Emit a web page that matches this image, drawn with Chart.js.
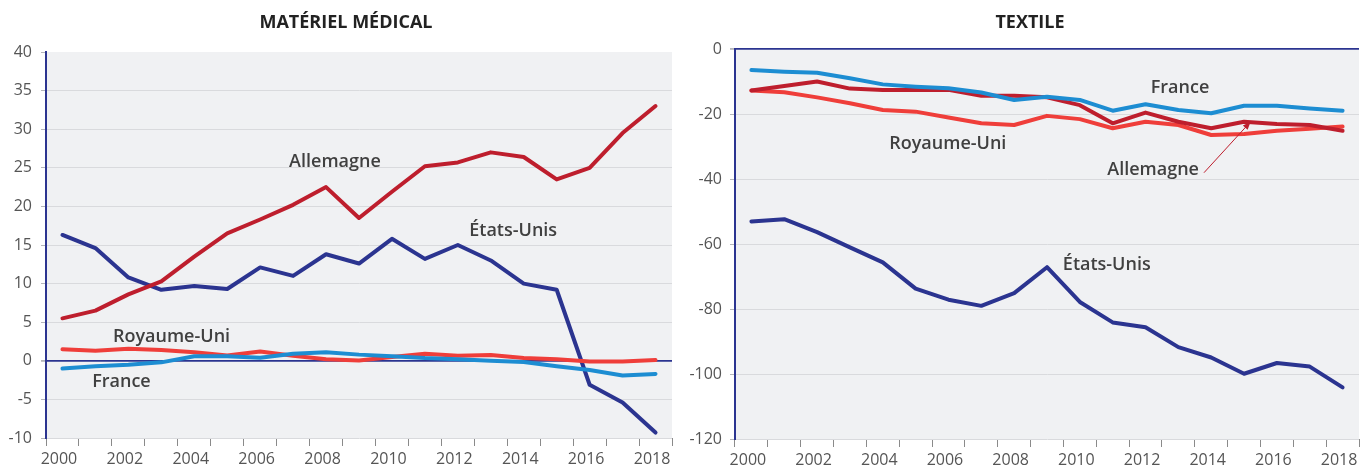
<!DOCTYPE html>
<html>
<head>
<meta charset="utf-8">
<script src="https://cdn.jsdelivr.net/npm/chart.js@4.4.1/dist/chart.umd.min.js"></script>
<style>
  html, body { margin: 0; padding: 0; background: #ffffff; }
  #wrap { position: relative; width: 1366px; height: 466px; overflow: hidden; }
  canvas { position: absolute; top: 0; }
  #c1 { left: 0; }
  #c2 { left: 683px; }
  .ttl { position: absolute; top: 9px; width: 300px; margin-left: -150px; text-align: center;
         font-family: "Open Sans", "Liberation Sans", sans-serif; font-weight: 700; font-size: 18px;
         line-height: 24px; color: #222222; white-space: nowrap; }
  #t1 { left: 346px; }
  #t2 { left: 1030px; }
</style>
</head>
<body>
<div id="wrap">
  <canvas id="c1" width="683" height="466"></canvas>
  <canvas id="c2" width="683" height="466"></canvas>
  <div class="ttl" id="t1"></div>
  <div class="ttl" id="t2"></div>
</div>
<script>
// ---------- DATA ----------
const years = ['2000','2001','2002','2003','2004','2005','2006','2007','2008','2009',
               '2010','2011','2012','2013','2014','2015','2016','2017','2018'];

// Matériel médical
const medTitle = 'MATÉRIEL MÉDICAL';
const medAllemagne   = [5.5, 6.5, 8.6, 10.3, 13.5, 16.5, 18.3, 20.2, 22.5, 18.5, 21.9, 25.2, 25.7, 27.0, 26.4, 23.5, 25.0, 29.5, 33.0];
const medEtatsUnis   = [16.3, 14.6, 10.8, 9.2, 9.7, 9.3, 12.1, 11.0, 13.8, 12.6, 15.8, 13.2, 15.0, 13.0, 10.0, 9.2, -3.1, -5.4, -9.3];
const medRoyaumeUni  = [1.5, 1.3, 1.55, 1.4, 1.1, 0.7, 1.2, 0.65, 0.2, 0.05, 0.5, 0.9, 0.65, 0.75, 0.35, 0.2, -0.1, -0.1, 0.1];
const medFrance      = [-1.0, -0.7, -0.5, -0.2, 0.6, 0.6, 0.4, 0.9, 1.1, 0.8, 0.6, 0.35, 0.2, 0.0, -0.15, -0.7, -1.2, -1.9, -1.7];
const medYTicks = [-10, -5, 0, 5, 10, 15, 20, 25, 30, 35, 40];

// Textile
const texTitle = 'TEXTILE';
const texFrance      = [-6.4, -6.9, -7.2, -8.9, -10.8, -11.5, -12.0, -13.3, -15.6, -14.6, -15.6, -18.9, -16.9, -18.7, -19.7, -17.4, -17.4, -18.2, -18.9];
const texAllemagne   = [-12.7, -11.3, -9.9, -12.1, -12.5, -12.5, -12.5, -14.3, -14.3, -14.8, -17.2, -22.8, -19.5, -22.3, -24.3, -22.3, -23.0, -23.3, -25.1];
const texRoyaumeUni  = [-12.7, -13.2, -14.8, -16.6, -18.7, -19.2, -21.0, -22.8, -23.3, -20.5, -21.5, -24.3, -22.3, -23.3, -26.4, -26.1, -25.1, -24.5, -23.8];
const texEtatsUnis   = [-53.0, -52.3, -56.3, -61.0, -65.6, -73.7, -77.1, -79.0, -75.1, -67.1, -77.8, -84.1, -85.6, -91.7, -94.9, -99.9, -96.6, -97.7, -104.1];
const texYTicks = [-120, -100, -80, -60, -40, -20, 0];

// Series names (in-plot labels)
const nameAllemagne = 'Allemagne';
const nameEtatsUnis = 'États-Unis';
const nameRoyaumeUni = 'Royaume-Uni';
const nameFrance = 'France';

document.getElementById('t1').textContent = medTitle;
document.getElementById('t2').textContent = texTitle;

// ---------- STYLE ----------
const COL_DKBLUE = '#2b3490';
const COL_DKRED  = '#be1e2d';
const COL_RED    = '#ef3e3a';
const COL_LTBLUE = '#1d8dd2';
const COL_BG     = '#f0f1f3';
const COL_GRID   = '#d9dadd';
const COL_TEXT   = '#555555';
const FONT = '"Open Sans", "Liberation Sans", sans-serif';

// annotation placement in data units (category index, value)
const medNotes = [
  { text: nameAllemagne,  x: 8.27,  y: 25.8 },
  { text: nameEtatsUnis,  x: 13.68, y: 16.8 },
  { text: nameRoyaumeUni, x: 3.31,  y: 3.1 },
  { text: nameFrance,     x: 1.79,  y: -2.7 }
];
const texNotes = [
  { text: nameFrance,     x: 13.05, y: -11.8 },
  { text: nameRoyaumeUni, x: 5.98,  y: -29.1 },
  { text: nameAllemagne,  x: 12.23, y: -37.0 },
  { text: nameEtatsUnis,  x: 10.82, y: -66.4 }
];
const texArrow = { from: { x: 13.78, y: -38.0 }, to: { x: 15.2, y: -22.3 } };

// ---------- PLUGINS ----------
const bgPlugin = {
  id: 'bgArea',
  beforeDraw(chart) {
    const a = chart.chartArea, ctx = chart.ctx;
    ctx.save();
    ctx.fillStyle = COL_BG;
    ctx.fillRect(a.left, a.top, a.right - a.left, a.bottom - a.top);
    ctx.restore();
  }
};

const notesPlugin = {
  id: 'notes',
  afterDatasetsDraw(chart, args, opts) {
    const ctx = chart.ctx, xs = chart.scales.x, ys = chart.scales.y;
    ctx.save();
    ctx.font = '600 18px ' + FONT;
    ctx.fillStyle = '#404040';
    ctx.textAlign = 'center';
    ctx.textBaseline = 'middle';
    (opts.items || []).forEach(n => {
      ctx.fillText(n.text, xs.getPixelForValue(n.x), ys.getPixelForValue(n.y));
    });
    if (opts.arrow) {
      const x1 = xs.getPixelForValue(opts.arrow.from.x), y1 = ys.getPixelForValue(opts.arrow.from.y);
      const x2 = xs.getPixelForValue(opts.arrow.to.x),   y2 = ys.getPixelForValue(opts.arrow.to.y);
      ctx.strokeStyle = COL_DKRED;
      ctx.fillStyle = COL_DKRED;
      ctx.lineWidth = 1;
      ctx.beginPath(); ctx.moveTo(x1, y1); ctx.lineTo(x2, y2); ctx.stroke();
      const ang = Math.atan2(y2 - y1, x2 - x1), L = 8, W = 3.2;
      ctx.beginPath();
      ctx.moveTo(x2, y2);
      ctx.lineTo(x2 - L * Math.cos(ang) + W * Math.sin(ang), y2 - L * Math.sin(ang) - W * Math.cos(ang));
      ctx.lineTo(x2 - L * Math.cos(ang) - W * Math.sin(ang), y2 - L * Math.sin(ang) + W * Math.cos(ang));
      ctx.closePath(); ctx.fill();
    }
    ctx.restore();
  }
};

function ds(label, data, color) {
  return { label, data, borderColor: color, backgroundColor: color, borderWidth: 4,
           pointRadius: 0, pointHoverRadius: 0, tension: 0, fill: false,
           borderCapStyle: 'round', borderJoinStyle: 'round' };
}

function makeChart(canvasId, cfg) {
  const yMin = cfg.yTicks[0], yMax = cfg.yTicks[cfg.yTicks.length - 1];
  return new Chart(document.getElementById(canvasId), {
    type: 'line',
    data: {
      labels: years,
      datasets: cfg.datasets
    },
    options: {
      responsive: false,
      animation: false,
      devicePixelRatio: 1,
      layout: { padding: { left: 0, right: cfg.padRight, top: cfg.padTop, bottom: 0 } },
      plugins: {
        legend: { display: false },
        tooltip: { enabled: false },
        title: { display: false },
        notes: { items: cfg.notes, arrow: cfg.arrow }
      },
      scales: {
        x: {
          type: 'category',
          offset: true,
          border: { display: false },
          grid: { display: true, offset: true, drawOnChartArea: false, drawTicks: true,
                  tickLength: 8, color: '#8a8a8a', tickColor: '#8a8a8a', lineWidth: 1 },
          ticks: {
            autoSkip: false, maxRotation: 0, minRotation: 0, padding: 4, labelOffset: -3.5,
            color: COL_TEXT, font: { family: FONT, size: 16 },
            callback: (v, i) => (i % 2 === 0 ? years[i] : '')
          },
          afterFit: s => { s.height = cfg.xHeight; }
        },
        y: {
          min: yMin, max: yMax,
          border: { display: true, color: COL_DKBLUE, width: 2 },
          grid: {
            drawTicks: true, tickLength: 5, tickColor: '#b5b6ba',
            color: c => (c.tick && c.tick.value === 0 ? COL_DKBLUE
                         : (c.tick && c.tick.value === yMax ? 'rgba(0,0,0,0)' : COL_GRID)),
            lineWidth: c => (c.tick && c.tick.value === 0 ? 1.8 : 1)
          },
          afterBuildTicks: s => { s.ticks = cfg.yTicks.map(v => ({ value: v })); },
          ticks: { padding: cfg.yPad, color: COL_TEXT, font: { family: FONT, size: 16 } },
          afterFit: s => { s.width = cfg.yWidth; }
        }
      }
    },
    plugins: [bgPlugin, notesPlugin]
  });
}

makeChart('c1', {
  datasets: [
    ds(nameFrance, medFrance, COL_LTBLUE),
    ds(nameAllemagne, medAllemagne, COL_DKRED),
    ds(nameRoyaumeUni, medRoyaumeUni, COL_RED),
    ds(nameEtatsUnis, medEtatsUnis, COL_DKBLUE)
  ],
  yTicks: medYTicks,
  padRight: 11, padTop: 52,
  yWidth: 46, yPad: 9, xHeight: 28,
  notes: medNotes
});

makeChart('c2', {
  datasets: [
    ds(nameFrance, texFrance, COL_LTBLUE),
    ds(nameAllemagne, texAllemagne, COL_DKRED),
    ds(nameRoyaumeUni, texRoyaumeUni, COL_RED),
    ds(nameEtatsUnis, texEtatsUnis, COL_DKBLUE)
  ],
  yTicks: texYTicks,
  padRight: 7, padTop: 49.3,
  yWidth: 52, yPad: 8, xHeight: 27,
  notes: texNotes,
  arrow: texArrow
});
</script>
</body>
</html>
